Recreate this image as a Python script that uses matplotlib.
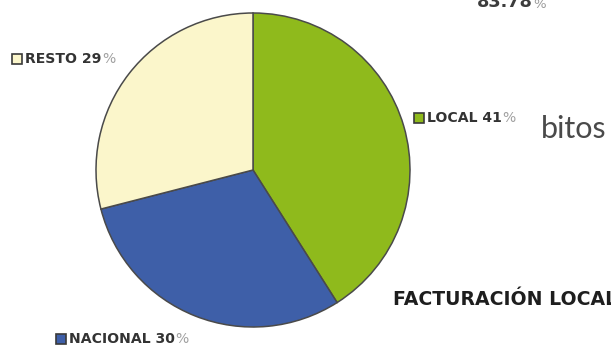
import matplotlib
matplotlib.use("Agg")
import matplotlib.pyplot as plt

# Share of turnover by market
categories = ["LOCAL", "NACIONAL", "RESTO"]
shares = [41, 30, 29]
colors = ["#8fba1c", "#3e5fa8", "#fbf6cb"]

W, H = 611, 347
fig = plt.figure(figsize=(W / 100, H / 100), dpi=100)
ax = fig.add_axes([0, 0, 1, 1])

ax.pie(shares, colors=colors, startangle=90, counterclock=False,
       center=(253, H - 170), radius=157, frame=True,
       wedgeprops=dict(edgecolor="#4a4a4a", linewidth=1.1))
ax.set_xlim(0, W)
ax.set_ylim(0, H)
ax.set_aspect("equal")
ax.axis("off")

label_font = ["DejaVu Sans"]

# label positions (marker x, y) for each slice
label_pos = {"LOCAL": (418.5, H - 117.5), "NACIONAL": (60.5, H - 339),
             "RESTO": (16.5, H - 58.5)}
for name, val, col in zip(categories, shares, colors):
    mx, my = label_pos[name]
    ax.plot(mx, my, marker="s", markersize=7.0, markerfacecolor=col,
            markeredgecolor="#3a3a3a", markeredgewidth=1.2, clip_on=False)
    t = ax.text(mx + 8.5, my, f"{name} {val}", fontsize=10.1, fontweight="bold",
                family=label_font, color="#333333", va="center", ha="left")
    ax.annotate("%", xy=(1, 0), xycoords=t, xytext=(0.3, 0),
                textcoords="offset points", fontsize=10.1, color="#a0a0a0",
                family=label_font, va="bottom", ha="left")

# surrounding page text
t = ax.text(477, H - 7, "83.78", fontsize=12.8, fontweight="bold",
            family=["DejaVu Sans"], color="#3c3c3c",
            va="baseline", ha="left")
ax.annotate("%", xy=(1, 0), xycoords=t, xytext=(0.3, 0),
            textcoords="offset points", fontsize=9.5, color="#9a9a9a",
            family=["DejaVu Sans"], va="bottom", ha="left")

ax.text(541, H - 138, "bitos", fontsize=22,
        family=["Lato", "Open Sans", "DejaVu Sans"], color="#4a4a4a",
        va="baseline", ha="left")

ax.text(393, H - 305, "FACTURACIÓN LOCAL", fontsize=13.6, fontweight="bold",
        family=["DejaVu Sans"], color="#1e1e1e",
        va="baseline", ha="left")

fig.savefig("out.png", dpi=100)
